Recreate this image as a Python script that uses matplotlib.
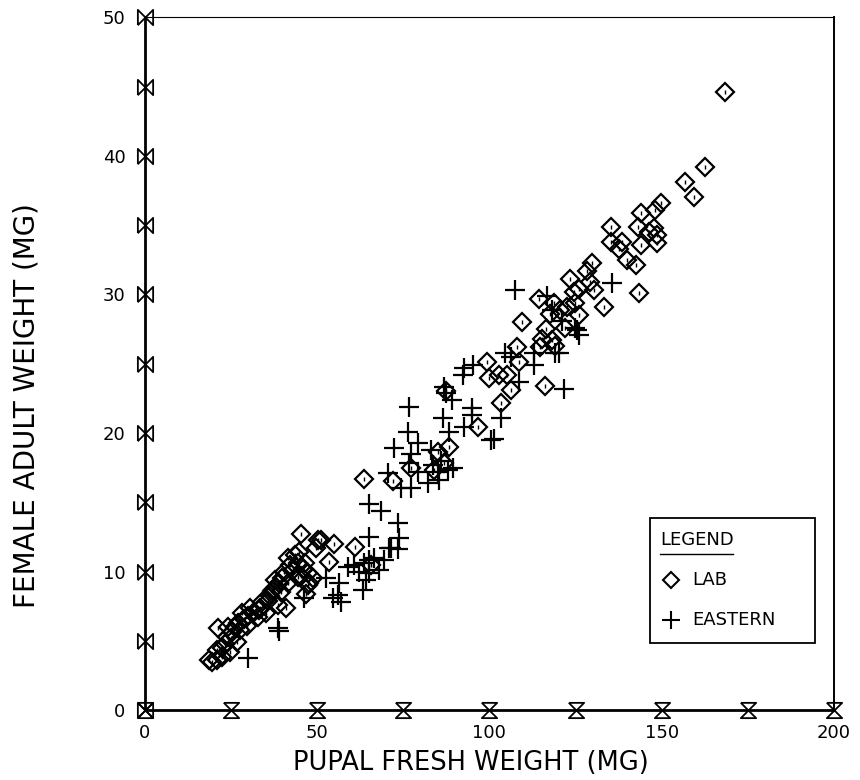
import numpy as np
import matplotlib.pyplot as plt
from matplotlib.path import Path
from matplotlib.patches import Rectangle

# LAB strain: pupal fresh weight (mg) vs female adult weight (mg)
lab_x = [168.5, 162.7, 156.9, 159.5, 149.9, 148.1, 144.0, 135.3, 143.1, 147.8,
         146.4, 148.7, 148.7, 135.3, 138.5, 137.6, 144.0, 139.9, 142.6, 143.4,
         129.7, 128.3, 123.3, 130.3, 129.2, 125.9, 124.5, 133.2, 125.9, 114.3,
         118.7, 122.4, 124.8, 117.5, 120.5, 116.5,
         109.6, 121.9, 115.2, 118.1, 119.0, 114.6, 107.9, 108.5, 99.4, 100.0,
         102.9, 105.0, 106.4, 116.0, 87.5, 103.5, 96.8, 88.3, 85.1, 86.9,
         77.3, 84.0, 63.6, 72.0,
         45.2, 50.1, 51.0, 49.6, 54.8, 60.9, 53.4, 44.6, 41.4, 47.2,
         65.6, 40.8, 21.3, 19.5, 18.5, 22.4, 24.8, 23.3, 25.4, 27.1,
         28.3, 30.6, 29.7, 32.7, 35.0, 35.6, 37.3, 38.8, 39.9, 41.4,
         36.4, 33.5, 31.5, 26.2, 23.9, 22.4, 21.0, 21.0, 26.8, 28.6,
         38.5, 44.3, 45.8, 45.2, 47.2, 48.7, 47.5, 44.3, 43.1,
         34.0, 36.8, 38.0, 40.5, 42.0, 33.0, 30.0, 27.5, 25.0, 24.0,
         37.8, 39.5, 43.5, 46.5, 46.6]
lab_y = [44.6, 39.2, 38.1, 37.0, 36.6, 36.1, 35.9, 34.9, 34.9, 34.8,
         34.5, 34.3, 33.7, 33.8, 33.8, 33.3, 33.6, 32.5, 32.1, 30.1,
         32.3, 31.7, 31.1, 30.3, 30.9, 30.4, 30.2, 29.1, 28.5, 29.7,
         29.4, 29.1, 29.4, 28.6, 28.9, 27.5,
         28.0, 27.6, 26.8, 26.7, 26.3, 26.2, 26.2, 25.1, 25.1, 24.0,
         24.2, 24.2, 23.1, 23.4, 23.0, 22.2, 20.4, 19.0, 18.6, 17.8,
         17.5, 17.3, 16.7, 16.5,
         12.7, 12.3, 12.3, 11.7, 12.0, 11.8, 10.7, 11.4, 11.0, 9.0,
         10.5, 7.4, 5.9, 3.5, 3.6, 3.8, 4.2, 4.8, 5.6, 6.3,
         7.0, 7.4, 6.1, 6.7, 7.0, 7.9, 8.7, 9.2, 9.5, 9.2,
         8.2, 7.4, 7.0, 6.0, 5.3, 4.5, 4.3, 3.6, 4.9, 6.6,
         7.6, 10.6, 10.2, 9.7, 9.9, 9.5, 9.2, 9.6, 10.1,
         7.8, 8.6, 8.9, 10.0, 10.5, 7.2, 6.8, 5.8, 5.2, 6.0,
         9.4, 8.5, 11.2, 10.6, 8.4]

# EASTERN strain
east_x = [135.6, 116.6, 118.1, 121.0, 124.8, 107.3, 125.4, 120.1, 112.8, 112.8,
          104.4, 106.4, 92.7, 95.3, 92.4, 108.7, 121.6, 86.9, 87.5, 76.7,
          94.8, 94.8, 103.5, 92.7, 86.6, 76.4, 79.3, 88.3, 101.2, 72.3,
          77.3, 83.1, 86.0, 76.7, 79.3, 83.7, 85.1, 88.0, 89.5, 70.6,
          74.3, 77.3, 82.2, 85.4, 65.0, 68.5, 65.0, 73.5, 71.4, 46.1,
          52.5, 56.3, 56.0, 56.9, 54.5, 58.9, 60.6, 63.6, 65.0, 66.5,
          69.4, 70.8, 67.9, 65.0, 63.3, 64.1, 62.1, 73.8, 73.5, 38.5,
          39.0, 30.0, 126.0, 119.0, 100.6, 89.0]
east_y = [30.8, 29.9, 28.9, 28.1, 27.6, 30.3, 27.4, 25.8, 25.8, 24.9,
          25.8, 25.5, 24.7, 24.9, 24.2, 23.7, 23.2, 23.3, 22.9, 21.9,
          21.8, 21.3, 21.1, 20.4, 21.1, 20.1, 19.3, 20.1, 19.6, 18.9,
          18.5, 18.8, 18.0, 17.8, 17.2, 17.7, 17.2, 17.3, 17.5, 17.1,
          16.0, 16.0, 16.4, 16.6, 14.9, 14.4, 12.5, 13.5, 11.7, 8.1,
          9.5, 9.2, 8.3, 7.8, 8.1, 10.3, 10.5, 10.6, 10.8, 11.0,
          10.8, 11.7, 10.1, 9.9, 8.7, 9.4, 10.0, 12.4, 11.6, 5.9,
          5.7, 3.75, 27.1, 25.8, 19.5, 22.4]

x_ticks = [0, 25, 50, 75, 100, 125, 150, 175, 200]
y_ticks = [0, 5, 10, 15, 20, 25, 30, 35, 40, 45, 50]
x_labels = [0, 50, 100, 150, 200]
y_labels = [0, 10, 20, 30, 40, 50]

plt.rcParams['font.family'] = ['DejaVu Sans']

fig = plt.figure(figsize=(8.6, 7.8), dpi=100)
ax = fig.add_axes([0.1686, 0.0897, 0.801, 0.888])
ax.set_xlim(0, 200)
ax.set_ylim(0, 50)

ax.plot(lab_x, lab_y, ls='none', marker='D', ms=9, mfc='none', mec='black', mew=1.6)
ax.plot(lab_x, lab_y, ls='none', marker='|', ms=3, mec='black', mew=1.0)
ax.plot(east_x, east_y, ls='none', marker='+', ms=14, mec='black', mew=1.6)

# bowtie / hourglass tick marks
bowtie = Path([(-1, -1), (-1, 1), (1, -1), (1, 1), (-1, -1)])
hourglass = Path([(-1, 1), (1, 1), (-1, -1), (1, -1), (-1, 1)])
ax.plot([0] * len(y_ticks), y_ticks, ls='none', marker=bowtie, ms=11,
        mfc='none', mec='black', mew=1.3, clip_on=False, zorder=5)
ax.plot(x_ticks, [0] * len(x_ticks), ls='none', marker=hourglass, ms=11,
        mfc='none', mec='black', mew=1.3, clip_on=False, zorder=5)

ax.set_xticks(x_labels)
ax.set_yticks(y_labels)
ax.tick_params(length=0, labelsize=13, pad=14)
ax.tick_params(axis='x', pad=10)

ax.set_xlabel('PUPAL FRESH WEIGHT (MG)', fontsize=18.5)
ax.xaxis.set_label_coords(0.473, -0.058)
ax.set_ylabel('FEMALE ADULT WEIGHT (MG)', fontsize=20)
ax.yaxis.set_label_coords(-0.152, 0.44)

ax.spines['left'].set_linewidth(2)
ax.spines['bottom'].set_linewidth(2)
ax.spines['top'].set_linewidth(0.8)
ax.spines['right'].set_linewidth(1.4)

# legend box
ax.add_patch(Rectangle((0.733, 0.097), 0.239, 0.180, transform=ax.transAxes,
                       fill=False, ec='black', lw=1.3, zorder=6))
ax.text(0.748, 0.245, 'LEGEND', transform=ax.transAxes, fontsize=13,
        va='center', ha='left')
ax.plot([0.748, 0.853], [0.225, 0.225], transform=ax.transAxes, color='black', lw=1)
ax.plot([0.764], [0.188], transform=ax.transAxes, ls='none', marker='D', ms=8,
        mfc='none', mec='black', mew=1.5, clip_on=False)
ax.text(0.795, 0.188, 'LAB', transform=ax.transAxes, fontsize=13, va='center')
ax.plot([0.764], [0.130], transform=ax.transAxes, ls='none', marker='+', ms=13,
        mec='black', mew=1.5, clip_on=False)
ax.text(0.795, 0.130, 'EASTERN', transform=ax.transAxes, fontsize=13, va='center')

fig.savefig('out.png', dpi=100)
